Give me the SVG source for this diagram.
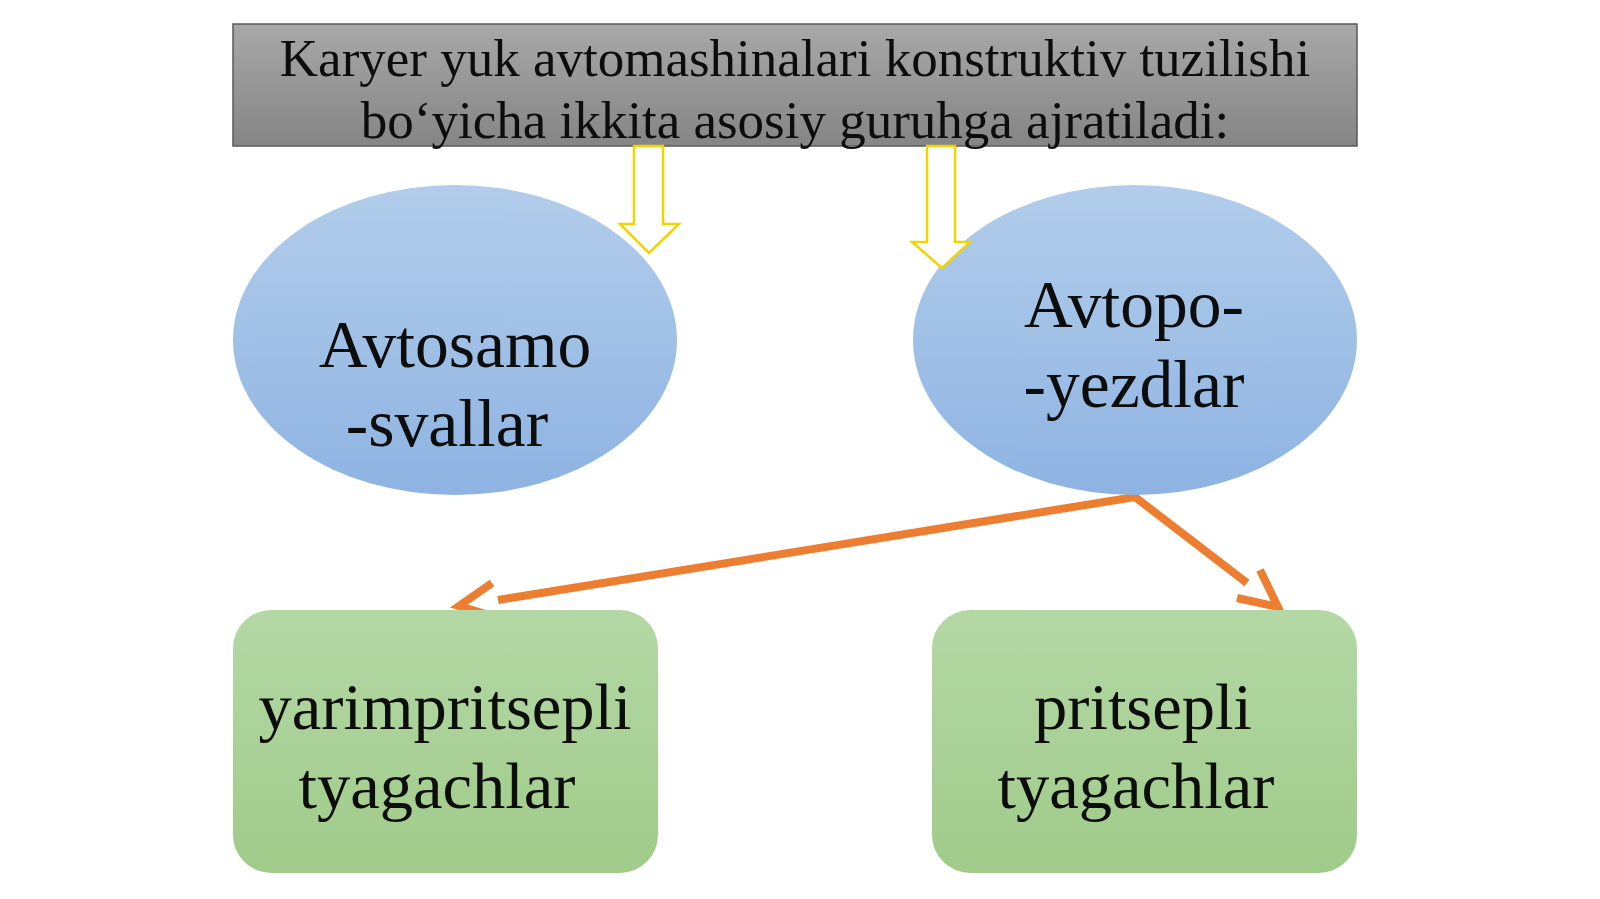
<svg xmlns="http://www.w3.org/2000/svg" width="1600" height="899" viewBox="0 0 1600 899">
<style>
text{font-family:"Liberation Serif","Times New Roman",serif;fill:#0d0d0d;text-anchor:middle}
.h{font-size:53px}
.e{font-size:67.5px}
.g{font-size:66.5px}
.oc{fill:none;stroke:#ED7D31;stroke-width:8;stroke-linecap:butt;stroke-linejoin:miter}
.ya{fill:#ffffff;stroke:#F2D400;stroke-width:2.5;stroke-linejoin:miter}
</style>
<defs>
<linearGradient id="gh" x1="0" y1="0" x2="0" y2="1"><stop offset="0" stop-color="#a8a8a8"/><stop offset="1" stop-color="#858585"/></linearGradient>
<linearGradient id="gb" x1="0" y1="0" x2="0" y2="1"><stop offset="0" stop-color="#b2cdeb"/><stop offset="1" stop-color="#8eb3e2"/></linearGradient>
<linearGradient id="gg" x1="0" y1="0" x2="0" y2="1"><stop offset="0" stop-color="#b4d8a5"/><stop offset="1" stop-color="#a0cb8a"/></linearGradient>
</defs>
<rect width="1600" height="899" fill="#ffffff"/>
<g id="connectors">
<polyline class="oc" points="498,600 1135,497 1247,583"/>
<polyline class="oc" points="492,583 459,606 499,618"/>
<polyline class="oc" points="1260,570 1278,607 1237,598"/>
</g>
<g id="header">
<rect x="233" y="24" width="1124" height="122" fill="url(#gh)" stroke="#5a5a5a" stroke-width="1.5"/>
<text class="h" x="795" y="76">Karyer yuk avtomashinalari konstruktiv tuzilishi</text>
<text class="h" x="795" y="138">bo‘yicha ikkita asosiy guruhga ajratiladi:</text>
</g>
<g id="node-avtosamosvallar">
<ellipse cx="455" cy="340" rx="222" ry="155" fill="url(#gb)"/>
<text class="e" x="455" y="367">Avtosamo</text>
<text class="e" x="447" y="446">-svallar</text>
</g>
<g id="node-avtopoyezdlar">
<ellipse cx="1135" cy="340" rx="222" ry="155" fill="url(#gb)"/>
<text class="e" x="1134" y="327">Avtopo-</text>
<text class="e" x="1134" y="407">-yezdlar</text>
</g>
<g id="node-yarimpritsepli">
<rect x="233" y="610" width="425" height="263" rx="38" fill="url(#gg)"/>
<text class="g" x="445" y="729">yarimpritsepli</text>
<text class="g" x="437" y="808">tyagachlar</text>
</g>
<g id="node-pritsepli">
<rect x="932" y="610" width="425" height="263" rx="38" fill="url(#gg)"/>
<text class="g" x="1143" y="729">pritsepli</text>
<text class="g" x="1136" y="808">tyagachlar</text>
</g>
<g id="yellow-arrows">
<polygon class="ya" points="634,146 663,146 663,224 679,224 649,253 620,224 634,224"/>
<polygon class="ya" points="927,146 955,146 955,242 970,242 942,268 912,242 927,242"/>
</g>
</svg>
